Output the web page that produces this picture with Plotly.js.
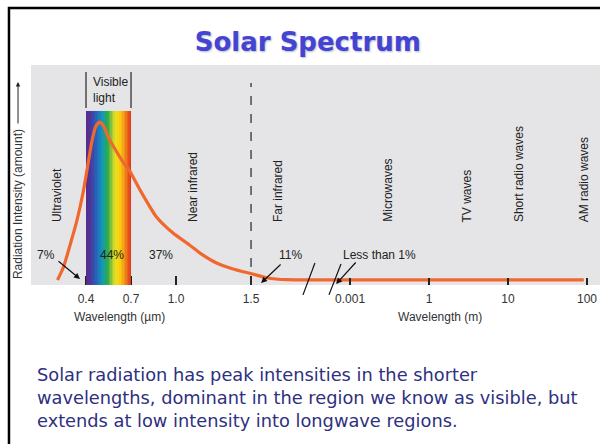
<!DOCTYPE html>
<html>
<head>
<meta charset="utf-8">
<script src="https://cdn.plot.ly/plotly-3.0.1.min.js"></script>
<style>html,body{margin:0;padding:0;background:#fff;}#chart{width:600px;height:444px;}</style>
</head>
<body>
<div id="chart"></div>
<script>
// ---- Data ----
// Left part: wavelength in micrometres (linear), intensity in arbitrary units (0-100)
var waveUm = [0.21,0.25,0.29,0.34,0.38,0.41,0.44,0.465,0.49,0.515,0.55,0.60,0.65,0.69,0.76,0.87,0.98,1.09,1.16,1.27,1.38,1.51,1.61,1.74,1.96];
var intensityUm = [2.3,8.2,17.3,29.5,41.8,53.6,65.5,72.0,74.0,72.5,67.0,61.0,55.5,52.0,43.2,30.9,23.6,18.2,14.5,10.0,7.3,5.0,3.2,2.4,2.3];
// Right part: long-wave tail, position in tick-index units of the radio axis
var tailPos = [-0.38,0,1,2,2.96];
var tailIntensity = [2.3,2.3,2.3,2.3,2.3];
// Tick labels
var umTicks = [0.4,0.7,1.0,1.5];
var umTickText = ['0.4','0.7','1.0','1.5'];
var mTickText = ['0.001','1','10','100'];
// Visible band (edges in µm and value per strip)
var bandEdges = [0.40,0.41,0.42,0.43,0.44,0.45,0.46,0.47,0.48,0.49,0.50,0.51,0.52,0.53,0.54,0.55,0.56,0.57,0.58,0.59,0.60,0.61,0.62,0.63,0.64,0.65,0.66,0.67,0.68,0.69,0.70];
var bandZ = [0.405,0.415,0.425,0.435,0.445,0.455,0.465,0.475,0.485,0.495,0.505,0.515,0.525,0.535,0.545,0.555,0.565,0.575,0.585,0.595,0.605,0.615,0.625,0.635,0.645,0.655,0.665,0.675,0.685,0.695];
var bandTop = 79.1;
// Region labels
var umRegions = [{t:'Ultraviolet',x:0.207},{t:'Near infrared',x:1.113},{t:'Far infrared',x:1.68}];
var mRegions = [{t:'Microwaves',x:0.47},{t:'TV waves',x:1.48},{t:'Short radio waves',x:2.14},{t:'AM radio waves',x:2.96}];
// Share labels
var umShares = [{t:'7%',x:0.133},{t:'44%',x:0.573},{t:'37%',x:0.9},{t:'11%',x:1.76}];
var mShares = [{t:'Less than 1%',x:0.367}];

var indexPos = mTickText.map(function(_, i){ return i; });

var traces = [
  {type:'heatmap', x:bandEdges, y:[0,bandTop], z:[bandZ], xaxis:'x', yaxis:'y',
   zmin:0.4, zmax:0.7, showscale:false, hoverinfo:'skip',
   colorscale:[[0,'#5a2a8a'],[0.1,'#4b389c'],[0.2,'#2a5cb4'],[0.3,'#1a82c0'],[0.38,'#12a0a8'],[0.47,'#2aa84a'],[0.56,'#8cc43c'],[0.64,'#e8e020'],[0.74,'#f8d010'],[0.84,'#f39a18'],[0.93,'#e85a1a'],[1,'#d8301a']]},
  {type:'scatter', mode:'lines', x:waveUm, y:intensityUm, xaxis:'x', yaxis:'y',
   line:{color:'#f0682e', width:3.2, shape:'spline', smoothing:0.6}, hoverinfo:'skip'},
  {type:'scatter', mode:'lines', x:tailPos, y:tailIntensity, xaxis:'x2', yaxis:'y',
   line:{color:'#f0682e', width:3.2}, hoverinfo:'skip'}
];

var tickFont = {family:'Liberation Sans, Arial, sans-serif', size:12, color:'#333'};
var labFont = {family:'Liberation Sans, Arial, sans-serif', size:12, color:'#222'};

var ann = [];
umRegions.forEach(function(r){ ann.push({xref:'x', yref:'y', x:r.x, y:27.7, text:r.t, textangle:-90, showarrow:false, xanchor:'center', yanchor:'bottom', font:labFont}); });
mRegions.forEach(function(r){ ann.push({xref:'x2', yref:'y', x:r.x, y:27.7, text:r.t, textangle:-90, showarrow:false, xanchor:'center', yanchor:'bottom', font:labFont}); });
umShares.forEach(function(r){ ann.push({xref:'x', yref:'y', x:r.x, y:13.6, text:r.t, showarrow:false, xanchor:'center', yanchor:'middle', font:labFont}); });
mShares.forEach(function(r){ ann.push({xref:'x2', yref:'y', x:r.x, y:13.6, text:r.t, showarrow:false, xanchor:'center', yanchor:'middle', font:labFont}); });
// arrows
ann.push({xref:'x', yref:'y', x:0.36, y:2.7, ax:-23, ay:-19, text:'', showarrow:true, arrowhead:2, arrowsize:1, arrowwidth:1.2, arrowcolor:'#111'});
ann.push({xref:'x', yref:'y', x:1.567, y:0.9, ax:21, ay:-20, text:'', showarrow:true, arrowhead:2, arrowsize:1, arrowwidth:1.2, arrowcolor:'#111'});
ann.push({xref:'x2', yref:'y', x:-0.177, y:0.45, ax:21, ay:-23, text:'', showarrow:true, arrowhead:2, arrowsize:1, arrowwidth:1.2, arrowcolor:'#111'});
// Visible light label
ann.push({xref:'x', yref:'y', x:0.433, y:88.6, text:'Visible<br>light', align:'left', xanchor:'left', yanchor:'middle', showarrow:false, font:labFont});
// axis titles
ann.push({xref:'paper', yref:'paper', x:0.156, y:-0.145, xanchor:'center', yanchor:'middle', text:'Wavelength (µm)', showarrow:false, font:tickFont});
ann.push({xref:'paper', yref:'paper', x:0.719, y:-0.145, xanchor:'center', yanchor:'middle', text:'Wavelength (m)', showarrow:false, font:tickFont});
// y-axis title and arrow
ann.push({xref:'paper', yref:'paper', x:-0.0228, y:0.368, xanchor:'center', yanchor:'middle', text:'Radiation Intensity (amount)', textangle:-90, showarrow:false, font:tickFont});
ann.push({xref:'paper', yref:'paper', x:-0.0228, y:0.923, ax:0, ay:43, text:'', showarrow:true, arrowhead:2, arrowsize:0.9, arrowwidth:1, arrowcolor:'#222'});
// caption
ann.push({xref:'paper', yref:'paper', x:0.007, y:-0.5136, xanchor:'left', yanchor:'middle', align:'left', showarrow:false,
  text:'Solar radiation has peak intensities in the shorter<br>wavelengths, dominant in the region we know as visible, but<br>extends at low intensity into longwave regions.',
  font:{family:'DejaVu Sans, sans-serif', size:17.8, color:'#2e3080'}});

var shapes = [
  {type:'line', xref:'x', yref:'y', x0:1.5, x1:1.5, y0:0, y1:91.8, line:{color:'#333', width:1.3, dash:'dash'}},
  {type:'line', xref:'x', yref:'y', x0:0.4, x1:0.4, y0:80.5, y1:96.8, line:{color:'#333', width:1.3}},
  {type:'line', xref:'x', yref:'y', x0:0.7, x1:0.7, y0:80.5, y1:96.8, line:{color:'#333', width:1.3}},
  {type:'line', xref:'paper', yref:'paper', x0:0.478, y0:-0.045, x1:0.499, y1:0.1, line:{color:'#111', width:1.2}},
  {type:'line', xref:'paper', yref:'paper', x0:0.5237, y0:-0.045, x1:0.5448, y1:0.0955, line:{color:'#111', width:1.2}},
  {type:'path', xref:'paper', yref:'paper', path:'M -0.0387,-0.75 L -0.0387,1.259 L 1.01,1.259', line:{color:'#000', width:2.5}}
];

var layout = {
  width:600, height:444,
  margin:{l:31, r:0, t:65, b:159, pad:0},
  paper_bgcolor:'#ffffff', plot_bgcolor:'#e5e5e7',
  showlegend:false,
  title:{text:'<b>Solar Spectrum</b>', x:0.513, xanchor:'center', y:0.905, yanchor:'middle',
    font:{family:'DejaVu Sans, sans-serif', size:26, color:'#4444d4', shadow:'1px 1px 2px #b8b8c8'}},
  xaxis:{domain:[0,0.508], range:[0.0333,1.96], tickvals:umTicks, ticktext:umTickText,
    ticks:'inside', ticklen:9, tickwidth:1.3, tickcolor:'#222', showgrid:false, zeroline:false, showline:false,
    tickfont:tickFont, ticklabelstandoff:5, layer:'below traces', fixedrange:true},
  xaxis2:{domain:[0.508,1], anchor:'y', range:[-0.38,3.165], tickvals:indexPos, ticktext:mTickText,
    ticks:'inside', ticklen:7, tickwidth:1.3, tickcolor:'#222', showgrid:false, zeroline:false, showline:false,
    tickfont:tickFont, ticklabelstandoff:5, fixedrange:true},
  yaxis:{range:[0,100], showticklabels:false, ticks:'', showgrid:false, zeroline:false, showline:false, fixedrange:true},
  annotations:ann,
  shapes:shapes
};

Plotly.newPlot('chart', traces, layout, {displayModeBar:false, staticPlot:true});
</script>
</body>
</html>
